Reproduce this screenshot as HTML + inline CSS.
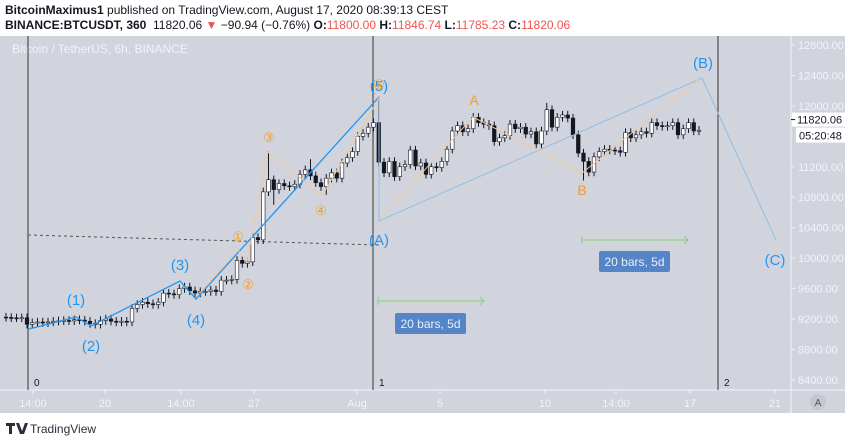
<!DOCTYPE html>
<html><head><meta charset="utf-8"><style>
body{margin:0;width:850px;height:443px;background:#fff;font-family:"Liberation Sans",sans-serif;overflow:hidden;position:relative}
.h{position:absolute;left:5px;font-size:12px;color:#131722;white-space:nowrap}
.r{color:#ef5350}
</style></head><body>
<div class="h" style="top:3px"><b>BitcoinMaximus1</b> published on TradingView.com, August 17, 2020 08:39:13 CEST</div>
<div class="h" style="top:18px"><b>BINANCE:BTCUSDT, 360</b>&nbsp; 11820.06 <span class="r">▼</span> −90.94 (−0.76%) <b>O:</b><span class="r">11800.00</span> <b>H:</b><span class="r">11846.74</span> <b>L:</b><span class="r">11785.23</span> <b>C:</b><span class="r">11820.06</span></div>
<svg id="c" width="850" height="443" style="position:absolute;left:0;top:0" xmlns="http://www.w3.org/2000/svg" font-family="Liberation Sans, sans-serif"></svg>
<script>
const closes=[9220,9215,9213,9216,9130,9150,9160,9150,9160,9170,9175,9180,9175,9190,9185,9170,9140,9130,9180,9200,9170,9160,9170,9160,
9340,9390,9420,9400,9390,9420,9540,9530,9520,9600,9620,9570,9540,9560,9560,9580,9560,9710,9710,9720,9970,9930,9950,10270,10240,10870,11030,10900,10980,10950,10940,10970,11100,11160,11080,10990,10940,11050,11120,11050,11250,11320,11400,11600,11640,11720,11780,11260,
11120,11270,11070,11200,11230,11420,11210,11250,11100,11200,11190,11270,11430,11670,11740,11660,11700,11850,11780,11760,11740,11530,11580,11610,11760,11700,11720,11630,11660,11500,11670,11950,11720,11850,11880,11840,11620,11380,11270,11130,11330,11400,11430,11420,11410,11390,11650,11580,11620,11660,11640,11780,11740,11730,11740,11780,11620,11700,11780,11670,11680];
const firstOpen=9225;
const defaultWick=55;
const highOverrides={50:11400,71:12120,103:12040,58:11300};
const lowOverrides={110:11020,51:10700,61:10830};
const priceTicks=[12800,12400,12000,11200,10800,10400,10000,9600,9200,8800,8400];
const timeLabels=[["14:00",33],["20",105],["14:00",181],["27",254],["Aug",357],["5",440],["10",545],["14:00",616],["17",690],["21",775]];
const lastPrice=11820.06;

const svg=document.getElementById('c');const NS='http://www.w3.org/2000/svg';
function el(t,a,p){const e=document.createElementNS(NS,t);for(const k in a)e.setAttribute(k,a[k]);(p||svg).appendChild(e);return e;}
const yOf=p=>45+(12800-p)*0.0761;
const xOf=i=>6+i*5.25;

let e;
e=el('rect',{x:0,y:36,width:845,height:377,fill:'#d1d4dc'});

el('line',{x1:791,y1:36,x2:791,y2:413,stroke:'#f0f3fa','stroke-width':1});
el('line',{x1:0,y1:390,x2:845,y2:390,stroke:'#f0f3fa','stroke-width':1});
e=el('text',{x:12,y:53,fill:'#f0f3fa','font-size':12});e.textContent='Bitcoin / TetherUS, 6h, BINANCE';

priceTicks.forEach(p=>{const y=yOf(p);
 el('line',{x1:791,y1:y,x2:795,y2:y,stroke:'#f0f3fa'});
 const t=el('text',{x:798,y:y+4,fill:'#f0f3fa','font-size':11});t.textContent=p.toFixed(2);
 });
timeLabels.forEach(([l,x])=>{el('line',{x1:x,y1:390,x2:x,y2:394,stroke:'#f0f3fa'});
 const t=el('text',{x:x,y:407,fill:'#f0f3fa','font-size':11,'text-anchor':'middle'});t.textContent=l;
 });
el('circle',{cx:818,cy:402,r:8,fill:'#c4c7cf'});
e=el('text',{x:818,y:406,'font-size':10,'text-anchor':'middle',fill:'#555'});e.textContent='A';

[[28,'0'],[373,'1'],[718,'2']].forEach(([x,l])=>{el('line',{x1:x,y1:36,x2:x,y2:390,stroke:'#333',"stroke-width":1});
 const t=el('text',{x:x+6,y:386,'font-size':10,fill:'#131722'});t.textContent=l;
 });
el('line',{x1:28,y1:235,x2:379,y2:245,stroke:'#555','stroke-dasharray':'3 3'});
const g=el('g',{});
closes.forEach((c,i)=>{const o=i?closes[i-1]:firstOpen;const x=xOf(i);
 const hi=highOverrides[i]!==undefined?highOverrides[i]:Math.max(o,c)+defaultWick;
 const lo=lowOverrides[i]!==undefined?lowOverrides[i]:Math.min(o,c)-defaultWick;
 el('line',{x1:x,y1:yOf(hi),x2:x,y2:yOf(lo),stroke:'#131722','stroke-width':1},g);
 const top=yOf(Math.max(o,c)),bot=yOf(Math.min(o,c));
 const b=el('rect',{x:x-1.8,y:top,width:3.6,height:Math.max(1,bot-top),fill:c>=o?'#fff':'#131722',stroke:'#131722','stroke-width':0.6},g);
 });
e=el('polyline',{points:'29,329 76,317 91,326 180,281 196,299 379,97',fill:'none',stroke:'#2196f3','stroke-width':1.3});

e=el('polyline',{points:'379,97 379,221 702,78 776,240',fill:'none',stroke:'#90bde6','stroke-width':1});

el('polyline',{points:'200,293 238,250 247,262 268,152 297,175 322,196 379,98',fill:'none',stroke:'#f3c89a','stroke-width':1});
el('polyline',{points:'379,220 473,117 582,173 699,79',fill:'none',stroke:'#f3c89a','stroke-width':1});
function lab(t,x,y,c,s,n){const e=el('text',{x:x,y:y,fill:c,'font-size':s,'text-anchor':'middle'});e.textContent=t;
 }
const B='#2196f3',O='#f59c1a';
lab('(1)',76,305,B,15,'wave-1-label');lab('(2)',91,351,B,15,'wave-2-label');lab('(3)',180,270,B,15,'wave-3-label');
lab('(4)',196,325,B,15,'wave-4-label');lab('(5)',379,91,B,15,'wave-5-label');lab('(A)',379,245,B,15,'wave-a-label');
lab('(B)',703,68,B,15,'wave-b-label');lab('(C)',775,265,B,15,'wave-c-label');
lab('①',238,241,O,13,'minor-1-label');lab('②',248,289,O,13,'minor-2-label');lab('③',269,142,O,13,'minor-3-label');
lab('④',321,215,O,13,'minor-4-label');lab('⑤',379,89,O,13,'minor-5-label');lab('A',474,105,O,14,'sub-a-label');lab('B',582,195,O,14,'sub-b-label');
[[378,484,301,395,313],[582,688,240,599,251]].forEach(([x1,x2,y,bx,by])=>{
 el('rect',{x:x1,y:y-3,width:x2-x1,height:6,fill:'#c8dcc8',opacity:0.6});
 el('line',{x1:x1,y1:y,x2:x2,y2:y,stroke:'#9cc49c'});
 el('polyline',{points:`${x2-4},${y-4} ${x2},${y} ${x2-4},${y+4}`,fill:'none',stroke:'#9cc49c'});
 el('line',{x1:x1,y1:y-4,x2:x1,y2:y+4,stroke:'#9cc49c'});
 el('rect',{x:bx,y:by,width:71,height:21,rx:2,fill:'#5585c7'});
 const t=el('text',{x:bx+35.5,y:by+15,fill:'#e8eef8','font-size':12,'text-anchor':'middle'});t.textContent='20 bars, 5d';
 });
const ly=yOf(lastPrice);
el('rect',{x:792,y:ly-7,width:53,height:14,fill:'#fff'});
el('line',{x1:791,y1:ly,x2:795,y2:ly,stroke:'#131722'});
e=el('text',{x:797,y:ly+4,'font-size':11,fill:'#131722'});e.textContent=lastPrice.toFixed(2);

el('rect',{x:796,y:ly+8,width:49,height:15,fill:'#fff'});
e=el('text',{x:799,y:ly+20,'font-size':11,fill:'#131722'});e.textContent='05:20:48';

el('path',{d:'M6 423h9v3h-3v8h-3v-8h-3z M16 423h3l3 8 3-8h3l-4 11h-4z',fill:'#2a2e39'});
e=el('text',{x:30,y:433,'font-size':12,fill:'#2a2e39'});e.textContent='TradingView';

</script>
</body></html>
